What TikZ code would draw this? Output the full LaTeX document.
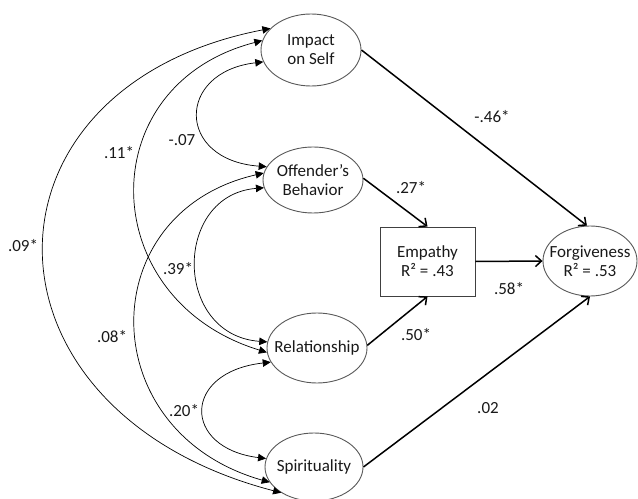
\documentclass[tikz,border=0pt]{standalone}
\usepackage{fontspec}
\setmainfont{Carlito}
\usetikzlibrary{arrows.meta,shapes.geometric}
\begin{document}
\begin{tikzpicture}[x=1bp,y=-1bp,
  var/.style={ellipse,draw=black!65,line width=0.9bp,fill=white,inner sep=0pt},
  vtext/.style={align=center,font=\fontsize{17bp}{19bp}\selectfont,text=black!90},
  boxnode/.style={rectangle,draw=black!75,line width=0.9bp,fill=white,inner sep=0pt,align=center,font=\fontsize{17bp}{19bp}\selectfont,text=black!90},
  effect/.style={line width=1.5bp,-{Straight Barb[length=6bp,width=11bp]}},
  cov/.style={line width=0.7bp,{Triangle[length=8bp,width=7.5bp]}-{Triangle[length=8bp,width=7.5bp]}},
  coef/.style={font=\fontsize{17bp}{19bp}\selectfont,text=black!90,inner sep=0pt}]
\useasboundingbox (0,0) rectangle (638,499);

% variables
\node[var,minimum width=100bp,minimum height=72bp,label={[vtext]center:Impact\\on Self}] (imp) at (311,50) {};
\node[var,minimum width=100bp,minimum height=66bp,label={[vtext]center:Offender’s\\Behavior}] (off) at (313,180) {};
\node[var,minimum width=100bp,minimum height=70bp,label={[vtext]center:Relationship}] (rel) at (317,348) {};
\node[var,minimum width=98bp,minimum height=68bp,label={[vtext]center:Spirituality}] (spi) at (314,467) {};
\node[boxnode,minimum width=95bp,minimum height=69bp] (emp) at (427.5,261.5) {Empathy\\R² = .43};
\node[var,minimum width=94bp,minimum height=70bp,label={[vtext]center:Forgiveness\\R² = .53}] (forg) at (590,261) {};

% covariances
\draw[cov] (imp.152) .. controls (-33,87) and (-33,411) .. (spi.218);
\draw[cov] (imp.169) .. controls (90,85) and (95,300) .. (rel.185);
\draw[cov] (imp.194) .. controls (176,72) and (176,160) .. (off.164);
\draw[cov] (off.172) .. controls (92,212) and (92,432) .. (spi.199);
\draw[cov] (off.189) .. controls (173,195) and (173,335) .. (rel.173);
\draw[cov] (rel.197) .. controls (182,372) and (182,448) .. (spi.170);

% paths
\draw[effect] (imp.0) -- (forg.95);
\draw[effect] (off.2) -- (emp.north);
\draw[effect] (rel.3) -- (emp.south);
\draw[effect] (emp.east) -- (forg.west);
\draw[effect] (spi.east) -- (forg.south);

% coefficients
\node[coef] (c1) at (23,246) {.09*};
\node[coef] (c2) at (119,153) {.11*};
\node[coef] (c3) at (182,140) {-.07};
\node[coef] (c4) at (178,269) {.39*};
\node[coef] (c5) at (112,337) {.08*};
\node[coef] (c6) at (184,411) {.20*};
\node[coef] (c7) at (492,117) {-.46*};
\node[coef] (c8) at (411,188) {.27*};
\node[coef] (c9) at (509,289) {.58*};
\node[coef] (c10) at (416,335) {.50*};
\node[coef] (c11) at (488,408) {.02};
\end{tikzpicture}
\end{document}
